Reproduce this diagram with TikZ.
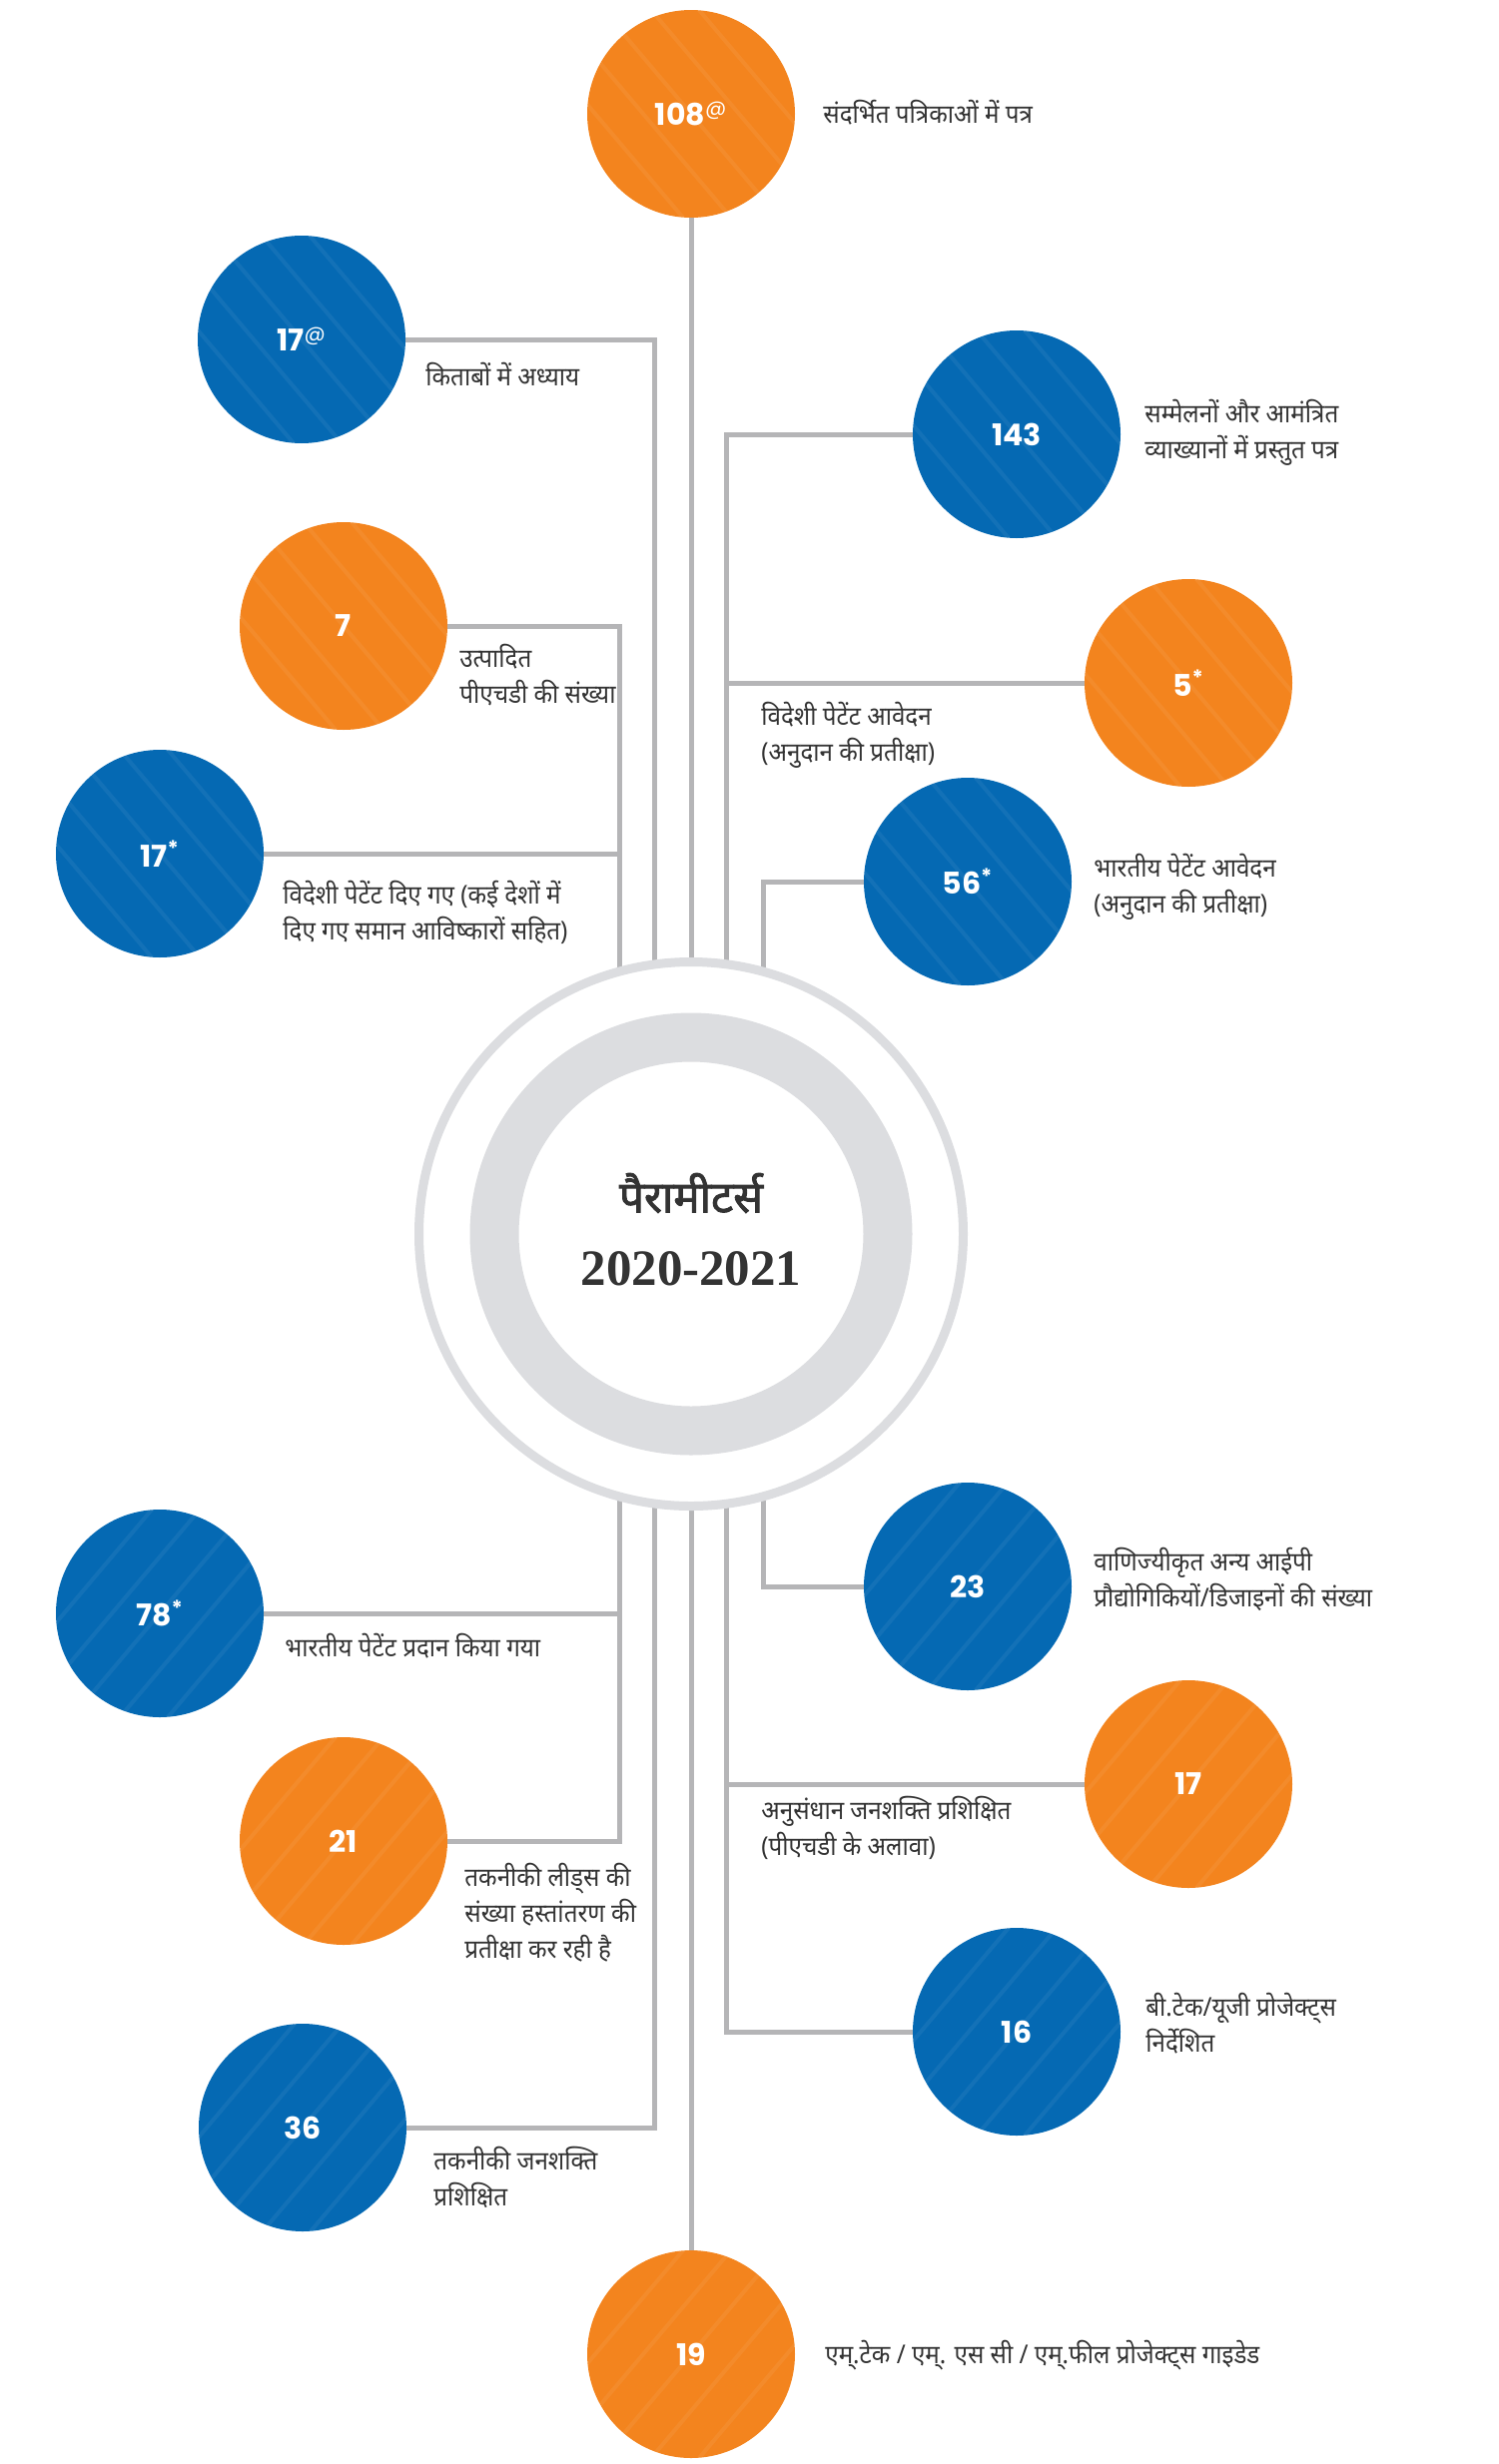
\documentclass[tikz,border=0pt]{standalone}
\usepackage{fontspec}
\newfontfamily\hindi[Script=Devanagari,FakeStretch=0.93]{Noto Sans}
\newfontfamily\hindititle[Script=Devanagari,FakeBold=2]{Noto Sans}
\newfontfamily\numfont{Poppins}
\newfontfamily\yearfont{Liberation Serif}
\usetikzlibrary{backgrounds}
\definecolor{iitorange}{HTML}{F3841E}
\definecolor{iitblue}{HTML}{0569B3}
\definecolor{linegray}{HTML}{B5B5B7}
\definecolor{ringgray}{HTML}{DCDDE0}
\definecolor{textgray}{HTML}{333333}
\begin{document}
\begin{tikzpicture}[x=0.5pt,y=-0.5pt,
    stat/.style={circle,minimum size=104pt,inner sep=0pt,text=white,font=\numfont\bfseries\fontsize{15}{15}\selectfont},
    stripedn/.style={path picture={\foreach \k in {-5,...,5} \draw[white,opacity=.06,line width=2pt] ([xshift=\k*24pt]path picture bounding box.center) ++(-55pt,65pt) -- ++(110pt,-130pt);}},
    stripeup/.style={path picture={\foreach \k in {-5,...,5} \draw[white,opacity=.06,line width=2pt] ([xshift=\k*24pt]path picture bounding box.center) ++(-55pt,-65pt) -- ++(110pt,130pt);}},
    orangeball/.style={stat,fill=iitorange},
    blueball/.style={stat,fill=iitblue},
    link/.style={draw=linegray,line width=2.5pt},
    lbl/.style={anchor=west,align=left,inner sep=0pt,text=textgray,font=\hindi\fontsize{13}{18}\selectfont}]
    \useasboundingbox (0,0) rectangle (1500,2468);
    \node [circle,draw=ringgray,line width=4.5pt,fill=white,minimum size=272.5pt,inner sep=0pt] (ring) at (692,1236) {};
    \node [circle,draw=ringgray,line width=24.5pt,minimum size=197pt,inner sep=0pt] (ringin) at (692,1236) {};
    \node [text=textgray,font=\hindititle\fontsize{22}{22}\selectfont] (title) at (692,1195) {पैरामीटर्स};
    \node [text=textgray,font=\yearfont\bfseries\fontsize{25.5}{25.5}\selectfont] (year) at (692,1271) {2020-2021};
    \coordinate (t1) at (620,1236);
    \coordinate (t2) at (655,1236);
    \coordinate (t4) at (727,1236);
    \coordinate (t5) at (764,1236);
    \node [orangeball,stripedn] (journals) at (692,114) {108\textsuperscript{\mdseries @}};
    \node [blueball,stripedn] (chapters) at (302,340) {17\textsuperscript{\mdseries @}};
    \node [blueball,stripedn] (confpapers) at (1018,435) {143};
    \node [orangeball,stripedn] (phds) at (344,627) {7};
    \node [orangeball,stripedn] (forapp) at (1190,684) {5\textsuperscript{*}};
    \node [blueball,stripedn] (indapp) at (969,883) {56\textsuperscript{*}};
    \node [blueball,stripedn] (forgrant) at (160,855) {17\textsuperscript{*}};
    \node [blueball,stripeup] (indgrant) at (160,1616) {78\textsuperscript{*}};
    \node [blueball,stripeup] (commip) at (969,1589) {23};
    \node [orangeball,stripeup] (rstrained) at (1190,1787) {17};
    \node [orangeball,stripeup] (leads) at (344,1844) {21};
    \node [blueball,stripeup] (btech) at (1018,2035) {16};
    \node [blueball,stripeup] (tmanpower) at (303,2131) {36};
    \node [orangeball,stripeup] (mtech) at (692,2358) {19};
    \node [lbl] (journals-txt) at (824,113) {संदर्भित पत्रिकाओं में पत्र};
    \node [lbl] (chapters-txt) at (426,375) {किताबों में अध्याय};
    \node [lbl] (confpapers-txt) at (1146,433) {सम्मेलनों और आमंत्रित\\व्याख्यानों में प्रस्तुत पत्र};
    \node [lbl] (phds-txt) at (460,676) {उत्पादित\\पीएचडी की संख्या};
    \node [lbl] (forapp-txt) at (762,736) {विदेशी पेटेंट आवेदन\\(अनुदान की प्रतीक्षा)};
    \node [lbl] (indapp-txt) at (1095,888) {भारतीय पेटेंट आवेदन\\(अनुदान की प्रतीक्षा)};
    \node [lbl] (forgrant-txt) at (283,914) {विदेशी पेटेंट दिए गए (कई देशों में\\दिए गए समान आविष्कारों सहित)};
    \node [lbl] (indgrant-txt) at (285,1649) {भारतीय पेटेंट प्रदान किया गया};
    \node [lbl] (commip-txt) at (1095,1582) {वाणिज्यीकृत अन्य आईपी\\प्रौद्योगिकियों/डिजाइनों की संख्या};
    \node [lbl] (rstrained-txt) at (762,1831) {अनुसंधान जनशक्ति प्रशिक्षित\\(पीएचडी के अलावा)};
    \node [lbl] (leads-txt) at (465,1916) {तकनीकी लीड्स की\\संख्या हस्तांतरण की\\प्रतीक्षा कर रही है};
    \node [lbl] (btech-txt) at (1147,2027) {बी.टेक/यूजी प्रोजेक्ट्स\\निर्देशित};
    \node [lbl] (tmanpower-txt) at (434,2181) {तकनीकी जनशक्ति\\प्रशिक्षित};
    \node [lbl] (mtech-txt) at (826,2359) {एम्.टेक / एम्. एस सी / एम्.फील प्रोजेक्ट्स गाइडेड};
    \begin{scope}[on background layer]
        \draw [link] (journals) -- (mtech);
        \draw [link] (chapters.east) -| (t2);
        \draw [link] (confpapers.west) -| (t4);
        \draw [link] (phds.east) -| (t1);
        \draw [link] (forapp.west) -- (forapp.west -| t4);
        \draw [link] (indapp.west) -| (t5);
        \draw [link] (forgrant.east) -- (forgrant.east -| t1);
        \draw [link] (indgrant.east) -- (indgrant.east -| t1);
        \draw [link] (commip.west) -| (t5);
        \draw [link] (rstrained.west) -- (rstrained.west -| t4);
        \draw [link] (leads.east) -| (t1);
        \draw [link] (btech.west) -| (t4);
        \draw [link] (tmanpower.east) -| (t2);
    \end{scope}
\end{tikzpicture}
\end{document}
